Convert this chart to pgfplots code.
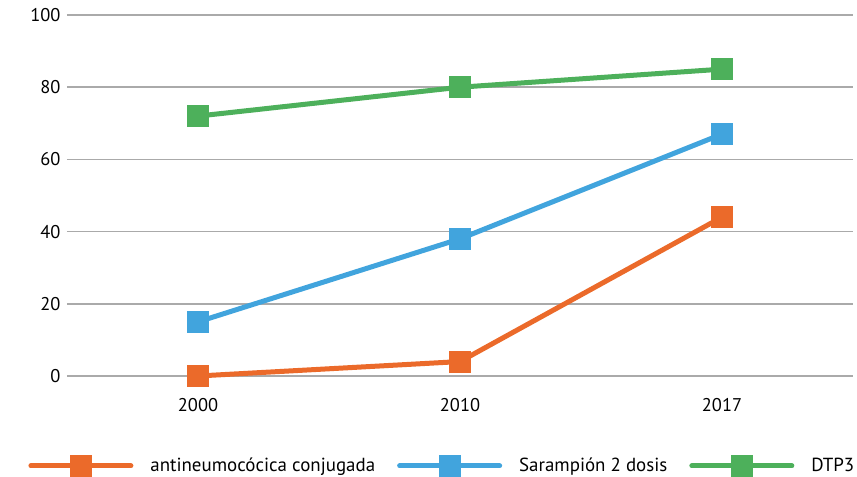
\documentclass[border=0pt]{standalone}
\usepackage{pgfplots}
\pgfplotsset{compat=1.18}
\usepackage{fontspec}
\setmainfont{PT Sans}
\definecolor{corange}{RGB}{235,106,42}
\definecolor{cblue}{RGB}{65,164,221}
\definecolor{cgreen}{RGB}{77,176,91}
\definecolor{cgrid}{RGB}{170,170,170}
\begin{document}
\begin{tikzpicture}[x=1bp,y=1bp]
\path[use as bounding box] (-67bp,-101bp) rectangle (790bp,376bp);
\begin{axis}[
  at={(0,0)}, anchor=south west,
  scale only axis, width=786bp, height=361bp,
  xmin=-0.5, xmax=2.5, ymin=0, ymax=100,
  xtick={0,1,2}, xticklabels={2000,2010,2017},
  ytick={0,20,40,60,80,100},
  ymajorgrids, grid style={cgrid, line width=1.5bp},
  axis line style={draw=none},
  major tick length=0pt,
  tick label style={font=\fontsize{18.5}{21}\selectfont},
  /pgf/number format/assume math mode=true,
  xticklabel style={yshift=-19bp},
  yticklabel style={xshift=-3bp},
  legend style={draw=none, at={(0.4775,-0.249)}, anchor=center, font=\fontsize{19}{22}\selectfont, column sep=15bp, /tikz/every even column/.style={column sep=20bp}},
  legend columns=3,
  legend image code/.code={\draw[#1, line cap=round, mark repeat=2, mark phase=2] plot coordinates {(0bp,0bp) (50bp,0bp) (100bp,0bp)};},
  every axis plot/.append style={line width=5bp, mark=square*, mark size=8.5bp},
  clip=false,
]
\addplot[color=corange, mark options={fill=corange, draw=none}] coordinates {(0,0) (1,4) (2,44)};
\addlegendentry{antineumocócica conjugada}
\addplot[color=cblue, mark options={fill=cblue, draw=none}] coordinates {(0,15) (1,38) (2,67)};
\addlegendentry{Sarampión 2 dosis}
\addplot[color=cgreen, mark options={fill=cgreen, draw=none}] coordinates {(0,72) (1,80) (2,85)};
\addlegendentry{DTP3}
\end{axis}
\end{tikzpicture}
\end{document}
